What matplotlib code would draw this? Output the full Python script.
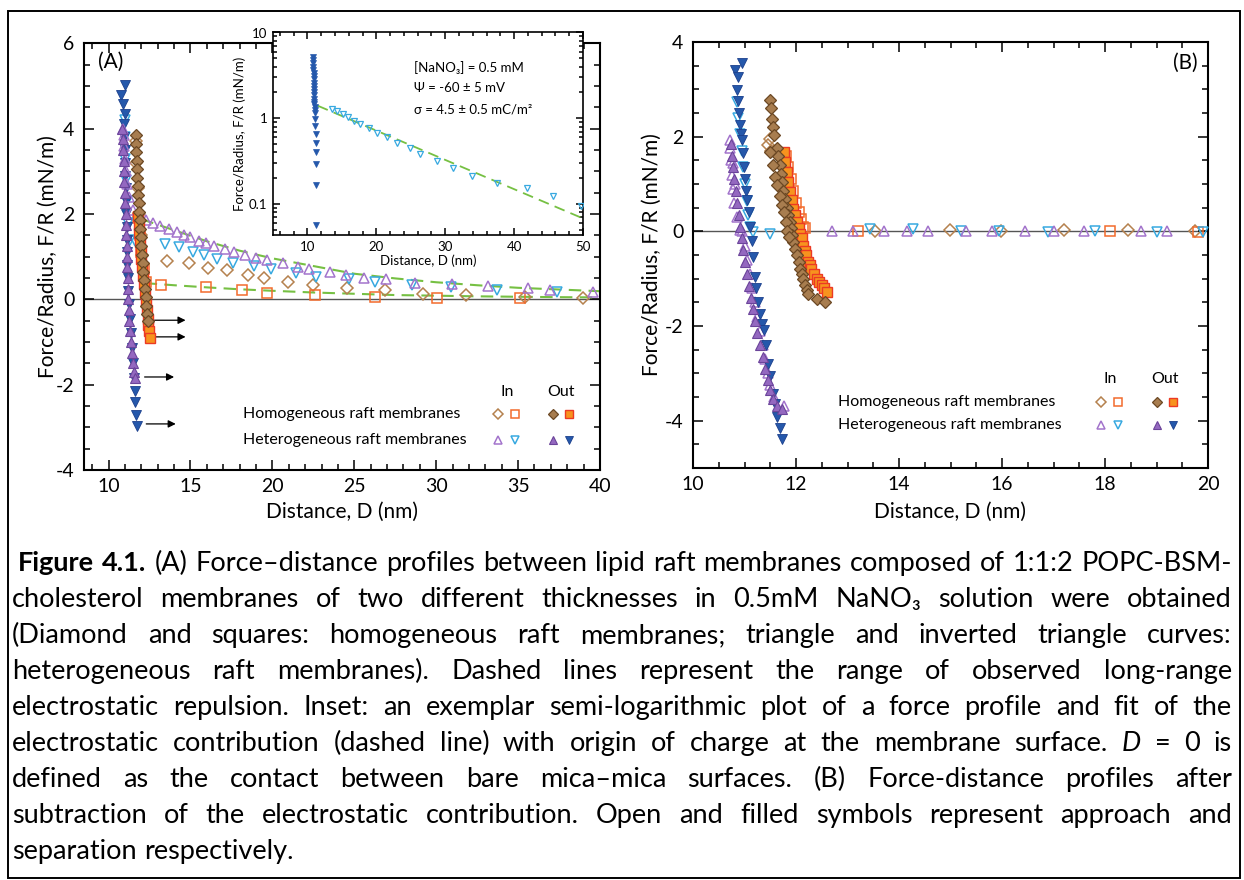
import matplotlib
matplotlib.use('Agg')
import matplotlib.pyplot as plt
from matplotlib.ticker import MultipleLocator, FixedLocator, FixedFormatter, LogLocator, NullFormatter
from matplotlib.patches import Rectangle

W, H = 1244, 880
FONT = ['Lato', 'DejaVu Sans']
plt.rcParams['font.family'] = FONT
plt.rcParams['axes.unicode_minus'] = False

# ---------------- data : panel A ----------------
A_hom_in_dia_D = [38.96, 35.4, 31.8, 29.17, 26.87, 24.55, 22.5, 20.97, 19.5, 18.5, 17.24, 16.1, 14.9, 13.58,
                  12.05, 11.95, 11.85, 11.77, 11.70, 11.66]
A_hom_in_dia_F = [0.04, 0.05, 0.09, 0.12, 0.21, 0.26, 0.33, 0.41, 0.50, 0.56, 0.68, 0.73, 0.86, 0.90,
                  1.05, 1.5, 2.0, 2.6, 3.2, 3.7]
A_hom_in_sq_D = [35.12, 30.04, 26.26, 22.6, 19.70, 18.13, 15.96, 13.21, 12.3, 12.15, 12.0, 11.9, 11.82]
A_hom_in_sq_F = [0.02, 0.03, 0.05, 0.11, 0.15, 0.225, 0.29, 0.335, 0.4, 0.7, 1.1, 1.5, 1.9]
A_hom_out_dia_D = [11.65, 11.67, 11.69, 11.71, 11.73, 11.75, 11.77, 11.80, 11.83, 11.86, 11.89, 11.93,
                   11.97, 12.01, 12.05, 12.09, 12.13, 12.17, 12.21, 12.26, 12.31, 12.36, 12.40]
A_hom_out_dia_F = [3.85, 3.65, 3.45, 3.25, 3.05, 2.85, 2.65, 2.45, 2.25, 2.05, 1.85, 1.65,
                   1.45, 1.25, 1.05, 0.85, 0.65, 0.45, 0.25, 0.05, -0.15, -0.35, -0.50]
A_hom_out_sq_D = [11.80, 11.84, 11.88, 11.92, 11.96, 12.00, 12.05, 12.10, 12.15, 12.20, 12.26, 12.32,
                  12.38, 12.43, 12.48, 12.53]
A_hom_out_sq_F = [1.95, 1.75, 1.55, 1.35, 1.15, 0.95, 0.75, 0.55, 0.35, 0.15, -0.05, -0.25,
                  -0.45, -0.60, -0.75, -0.91]
A_het_in_tri_D = [39.57, 36.95, 35.59, 33.19, 30.99, 28.68, 26.93, 25.57, 24.49, 23.52, 22.26, 21.59,
                  20.67, 19.70, 19.01, 18.31, 17.64, 17.09, 16.46, 15.93, 15.51, 14.98, 14.59, 14.17,
                  13.66, 13.15, 12.70, 12.3, 11.9, 11.5, 11.25, 11.15, 11.08, 11.02, 10.97, 10.92, 10.88]
A_het_in_tri_F = [0.18, 0.21, 0.27, 0.31, 0.36, 0.39, 0.48, 0.50, 0.57, 0.64, 0.70, 0.76,
                  0.84, 0.92, 0.97, 1.05, 1.12, 1.17, 1.25, 1.32, 1.37, 1.45, 1.51, 1.58,
                  1.65, 1.72, 1.78, 1.85, 1.95, 2.1, 2.4, 2.7, 3.0, 3.3, 3.6, 3.85, 4.0]
A_het_in_inv_D = [37.38, 33.70, 30.91, 28.52, 26.26, 24.70, 22.66, 21.46, 19.90, 18.90, 17.6, 16.59,
                  15.81, 15.18, 14.29, 13.46, 11.6, 11.28, 11.2, 11.12, 11.06, 11.02, 10.99, 10.98]
A_het_in_inv_F = [0.18, 0.22, 0.30, 0.33, 0.41, 0.48, 0.53, 0.61, 0.71, 0.79, 0.86, 0.94,
                  1.05, 1.12, 1.23, 1.30, 1.36, 1.39, 1.8, 2.3, 2.8, 3.3, 3.8, 4.2]
A_het_out_tri_D = [10.85, 10.88, 10.90, 10.93, 10.95, 10.97, 11.00, 11.02, 11.04, 11.06, 11.08, 11.10,
                   11.12, 11.14, 11.16, 11.18, 11.20, 11.23, 11.27, 11.31, 11.36, 11.42, 11.48, 11.55, 11.63]
A_het_out_tri_F = [4.0, 3.75, 3.5, 3.25, 3.0, 2.75, 2.5, 2.25, 2.0, 1.75, 1.5, 1.25,
                   1.0, 0.75, 0.5, 0.25, 0.0, -0.25, -0.5, -0.75, -1.0, -1.25, -1.5, -1.7, -1.85]
A_het_out_inv_D = [10.98, 10.77, 10.87, 10.98, 10.95, 10.97, 11.00, 11.02, 11.03, 11.05, 11.06, 11.08,
                   11.10, 11.12, 11.13, 11.15, 11.17, 11.20, 11.24, 11.30, 11.36, 11.42, 11.48, 11.55,
                   11.59, 11.63, 11.69, 11.75]
A_het_out_inv_F = [5.02, 4.80, 4.58, 4.35, 4.10, 3.80, 3.50, 3.20, 2.90, 2.60, 2.30, 2.00,
                   1.70, 1.40, 1.10, 0.80, 0.50, 0.20, -0.10, -0.45, -0.80, -1.15, -1.50, -1.85,
                   -2.15, -2.40, -2.70, -2.98]
A_fit_hi_D = [12.0, 14.0, 16.0, 18.0, 20.0, 22.5, 25.0, 27.5, 30.0, 32.5, 35.0, 37.5, 40.0]
A_fit_hi_F = [1.88, 1.62, 1.36, 1.14, 0.96, 0.78, 0.60, 0.49, 0.40, 0.33, 0.27, 0.23, 0.19]
A_fit_lo_D = [12.2, 14.0, 16.0, 18.0, 20.0, 22.5, 25.0, 27.5, 30.0, 32.5, 35.0, 37.5, 40.0]
A_fit_lo_F = [0.38, 0.33, 0.28, 0.235, 0.20, 0.16, 0.13, 0.10, 0.085, 0.07, 0.06, 0.05, 0.045]
A_arrow_D0 = [12.8, 12.8, 12.2, 12.3]
A_arrow_D1 = [14.7, 14.7, 14.0, 14.1]
A_arrow_F = [-0.49, -0.88, -1.82, -2.92]

# ---------------- data : inset ----------------
IN_app_D = [13.5, 14.33, 15.2, 15.87, 16.75, 17.62, 18.94, 20.06, 21.52, 22.93, 24.91, 26.37, 28.76,
            31.18, 33.95, 37.55, 41.88, 45.67, 49.7]
IN_app_F = [1.28, 1.20, 1.11, 1.04, 0.94, 0.85, 0.77, 0.68, 0.60, 0.52, 0.45, 0.38, 0.32,
            0.265, 0.21, 0.174, 0.153, 0.123, 0.095]
IN_sep_D = [10.85, 10.85, 10.86, 10.86, 10.87, 10.88, 10.88, 10.89, 10.9, 10.91, 10.92, 10.93, 10.95,
            10.97, 10.99, 11.02, 11.05, 11.08, 11.1, 11.12, 11.15, 11.17, 11.2, 11.22, 11.25, 11.25, 11.27]
IN_sep_F = [5.2, 4.8, 4.4, 4.0, 3.7, 3.4, 3.1, 2.85, 2.6, 2.4, 2.2, 2.0, 1.85,
            1.7, 1.55, 1.45, 1.35, 1.25, 1.15, 0.98, 0.81, 0.66, 0.52, 0.40, 0.29, 0.165, 0.057]
IN_fit_D = [11.5, 50.0]
IN_fit_F = [1.40, 0.068]
IN_text = ['[NaNO\u2083] = 0.5 mM', '\u03a8 = -60 \u00b1 5 mV', '\u03c3 = 4.5 \u00b1 0.5 mC/m\u00b2']

# ---------------- data : panel B ----------------
B_hom_in_dia_D = [11.46, 11.50, 11.52, 13.54, 14.99, 15.98, 17.2, 18.45, 19.75]
B_hom_in_dia_F = [1.82, 1.95, 1.70, 0.0, 0.02, 0.0, 0.03, 0.02, 0.0]
B_hom_in_sq_D = [11.8, 11.85, 11.9, 11.95, 12.0, 12.05, 12.1, 12.14, 12.17, 13.2, 18.1, 19.8]
B_hom_in_sq_F = [1.6, 1.35, 1.1, 0.85, 0.6, 0.4, 0.25, 0.1, 0.06, 0.0, 0.0, -0.02]
B_hom_out_dia_D = [11.50, 11.52, 11.53, 11.55, 11.58, 11.63, 11.66, 11.68, 11.70, 11.72, 11.75, 11.79,
                   11.82, 11.85, 11.88, 11.90, 11.92, 11.95, 11.98, 12.02, 12.05, 12.08, 12.11, 12.14,
                   12.17, 12.21, 12.24, 12.40, 12.56,
                   11.50, 11.55, 11.60, 11.63, 11.68, 11.72, 11.76, 11.80, 11.83, 11.87]
B_hom_out_dia_F = [2.77, 2.60, 2.38, 2.20, 2.03, 1.75, 1.60, 1.40, 1.22, 1.04, 0.85, 0.69,
                   0.50, 0.34, 0.20, 0.06, -0.08, -0.22, -0.37, -0.51, -0.65, -0.79, -0.90, -1.00,
                   -1.14, -1.25, -1.32, -1.42, -1.49,
                   1.68, 1.40, 1.15, 0.97, 0.75, 0.55, 0.41, 0.20, 0.0, -0.12]
B_hom_out_sq_D = [11.76, 11.79, 11.82, 11.85, 11.88, 11.92, 11.95, 11.98, 12.02, 12.05, 12.08, 12.11,
                  12.14, 12.17, 12.20, 12.24, 12.27, 12.30, 12.35, 12.40, 12.45, 12.50, 12.55, 12.60]
B_hom_out_sq_F = [1.68, 1.47, 1.26, 1.05, 0.83, 0.66, 0.48, 0.34, 0.20, 0.08, -0.05, -0.15,
                  -0.30, -0.42, -0.51, -0.65, -0.72, -0.79, -0.90, -1.00, -1.07, -1.14, -1.20, -1.28]
B_het_in_tri_D = [10.91, 10.85, 10.80, 10.77, 10.75, 10.73, 10.72, 10.72, 10.78, 10.82,
                  10.95, 11.00, 11.05, 11.10, 11.15, 11.20, 11.25, 11.30, 11.35, 11.40, 11.45, 11.50, 11.58, 11.76,
                  12.69, 13.11, 13.71, 14.15, 14.57, 15.3, 15.8, 16.45, 17.0, 17.6, 18.7, 19.2]
B_het_in_tri_F = [0.02, 0.3, 0.6, 0.9, 1.2, 1.5, 1.75, 1.92, 1.45, 1.0,
                  0.0, -0.3, -0.6, -0.9, -1.2, -1.5, -1.8, -2.1, -2.4, -2.7, -3.0, -3.25, -3.5, -3.68,
                  0.0, 0.0, 0.0, 0.0, 0.0, 0.0, 0.0, 0.0, 0.0, 0.0, 0.0, 0.0]
B_het_in_inv_D = [10.85, 10.88, 10.92, 10.95, 10.98, 11.01, 11.04, 11.07, 11.10, 11.17, 11.5,
                  13.44, 14.28, 15.2, 15.95, 16.9, 17.8, 19.0, 19.9]
B_het_in_inv_F = [2.73, 2.4, 2.05, 1.7, 1.35, 1.0, 0.65, 0.34, 0.1, -0.01, -0.05,
                  0.05, 0.05, 0.0, 0.0, -0.02, 0.0, -0.02, -0.02]
B_het_out_tri_D = [10.74, 10.76, 10.78, 10.80, 10.83, 10.86, 10.89, 10.92, 10.95, 10.98, 11.01, 11.05,
                   11.09, 11.13, 11.17, 11.21, 11.25, 11.30, 11.35, 11.40, 11.45, 11.50, 11.56, 11.64, 11.72]
B_het_out_tri_F = [1.85, 1.6, 1.35, 1.1, 0.85, 0.6, 0.35, 0.1, -0.15, -0.4, -0.65, -0.9,
                   -1.15, -1.4, -1.65, -1.9, -2.15, -2.4, -2.65, -2.9, -3.15, -3.36, -3.55, -3.7, -3.75]
B_het_out_inv_D = [10.95, 10.82, 10.88, 10.85, 10.87, 10.90, 10.91, 10.93, 10.95, 10.97, 10.99, 11.01,
                   11.03, 11.05, 11.08, 11.11, 11.14, 11.17, 11.20, 11.23, 11.27, 11.30, 11.34, 11.37,
                   11.41, 11.46, 11.50, 11.56, 11.60, 11.63, 11.68, 11.72]
B_het_out_inv_F = [3.55, 3.40, 3.25, 2.98, 2.75, 2.49, 2.25, 2.05, 1.92, 1.65, 1.36, 1.10,
                   0.85, 0.66, 0.40, 0.10, -0.20, -0.54, -0.97, -1.20, -1.50, -1.74, -1.95, -2.09,
                   -2.40, -2.80, -3.05, -3.43, -3.65, -3.93, -4.15, -4.38]

A_xticks = [10, 15, 20, 25, 30, 35, 40]
A_yticks = [-4, -2, 0, 2, 4, 6]
B_xticks = [10, 12, 14, 16, 18, 20]
B_yticks = [-4, -2, 0, 2, 4]
IN_xticks = [10, 20, 30, 40, 50]
IN_yticks = [0.1, 1, 10]
IN_ylabels = ['0.1', '1', '10']
LEGEND_ROWS = ['Homogeneous raft membranes', 'Heterogeneous raft membranes']
CAPTION = [
    'Figure 4.1. (A) Force\u2013distance profiles between lipid raft membranes composed of 1:1:2 POPC-BSM-',
    'cholesterol membranes of two different thicknesses in 0.5mM NaNO\u2083 solution were obtained',
    '(Diamond and squares: homogeneous raft membranes; triangle and inverted triangle curves:',
    'heterogeneous raft membranes). Dashed lines represent the range of observed long-range',
    'electrostatic repulsion. Inset: an exemplar semi-logarithmic plot of a force profile and fit of the',
    'electrostatic contribution (dashed line) with origin of charge at the membrane surface. D = 0 is',
    'defined as the contact between bare mica\u2013mica surfaces. (B) Force-distance profiles after',
    'subtraction of the electrostatic contribution. Open and filled symbols represent approach and',
    'separation respectively.',
]

# ---------------- styles ----------------
BROWN_FILL, BROWN_EDGE, BROWN_OPEN = '#a87d4f', '#6b4824', '#b5814e'
ORANGE_FILL, ORANGE_EDGE, ORANGE_OPEN = '#f7931e', '#ec3a24', '#f26b2c'
PURPLE_OPEN, PURPLE_FILL, PURPLE_EDGE = '#a374cc', '#9468c0', '#6b449a'
CYAN_OPEN = '#38a9e0'
BLUE_FILL, BLUE_EDGE = '#2558ab', '#1b3f8c'
GREEN = '#76c043'
ZERO = '#555555'

STY = {
    'hom_in_dia': dict(marker='D', mfc='none', mec=BROWN_OPEN, mew=1.1),
    'hom_in_sq': dict(marker='s', mfc='none', mec=ORANGE_OPEN, mew=1.1),
    'hom_out_dia': dict(marker='D', mfc=BROWN_FILL, mec=BROWN_EDGE, mew=0.9),
    'hom_out_sq': dict(marker='s', mfc=ORANGE_FILL, mec=ORANGE_EDGE, mew=1.0),
    'het_in_tri': dict(marker='^', mfc='none', mec=PURPLE_OPEN, mew=1.1),
    'het_in_inv': dict(marker='v', mfc='none', mec=CYAN_OPEN, mew=1.1),
    'het_out_tri': dict(marker='^', mfc=PURPLE_FILL, mec=PURPLE_EDGE, mew=0.8),
    'het_out_inv': dict(marker='v', mfc=BLUE_FILL, mec=BLUE_EDGE, mew=0.6),
}
MS = {'D': 6.0, 's': 6.5, '^': 7.0, 'v': 7.0}


def px_rect(x0, y0, x1, y1):
    return [x0 / W, 1 - y1 / H, (x1 - x0) / W, (y1 - y0) / H]


def pts(ax, D, F, key, scale=1.0, z=3):
    s = STY[key]
    ax.plot(D, F, ls='none', ms=MS[s['marker']] * scale, zorder=z, clip_on=True, **s)


def style_axis(ax, lw=1.5, lab=14, maj=7, mnr=4):
    for sp in ax.spines.values():
        sp.set_linewidth(lw)
    ax.tick_params(which='both', direction='in', top=True, right=True, width=1.1, labelsize=lab)
    ax.tick_params(which='major', length=maj)
    ax.tick_params(which='minor', length=mnr)


fig = plt.figure(figsize=(W / 100, H / 100), dpi=100)
fig.patches.append(Rectangle((8 / W, 1 - 878 / H), 1232 / W, 867 / H, transform=fig.transFigure,
                             fill=False, lw=1.4, ec='black'))

# ---------------- panel A ----------------
axA = fig.add_axes(px_rect(84, 43.3, 600, 470))
axA.set_xlim(8.5, 40)
axA.set_ylim(-4, 6)
axA.axhline(0, color=ZERO, lw=1.0, zorder=1)
axA.plot(A_fit_hi_D, A_fit_hi_F, color=GREEN, lw=1.5, dashes=(6, 3.5), zorder=2)
axA.plot(A_fit_lo_D, A_fit_lo_F, color=GREEN, lw=1.5, dashes=(6, 3.5), zorder=2)
pts(axA, A_hom_in_dia_D, A_hom_in_dia_F, 'hom_in_dia')
pts(axA, A_hom_in_sq_D, A_hom_in_sq_F, 'hom_in_sq')
pts(axA, A_het_in_inv_D, A_het_in_inv_F, 'het_in_inv')
pts(axA, A_het_out_inv_D, A_het_out_inv_F, 'het_out_inv', z=4)
pts(axA, A_het_in_tri_D, A_het_in_tri_F, 'het_in_tri', z=5)
pts(axA, A_het_out_tri_D, A_het_out_tri_F, 'het_out_tri', z=5)
pts(axA, A_hom_out_sq_D, A_hom_out_sq_F, 'hom_out_sq', z=5)
pts(axA, A_hom_out_dia_D, A_hom_out_dia_F, 'hom_out_dia', z=6)
for d0, d1, f in zip(A_arrow_D0, A_arrow_D1, A_arrow_F):
    axA.annotate('', xy=(d1, f), xytext=(d0, f),
                 arrowprops=dict(arrowstyle='-|>', lw=0.9, color='black', mutation_scale=11,
                                 shrinkA=0, shrinkB=0))
axA.set_xticks(A_xticks)
axA.set_yticks(A_yticks)
axA.xaxis.set_minor_locator(MultipleLocator(1))
axA.yaxis.set_minor_locator(MultipleLocator(0.5))
style_axis(axA)
axA.tick_params(axis='x', pad=6)
axA.tick_params(axis='y', pad=7)
axA.set_xlabel('Distance, D (nm)', fontsize=15)
axA.set_ylabel('Force/Radius, F/R (mN/m)', fontsize=15)
axA.xaxis.set_label_coords(0.5, (470 - 512) / 426.7)
axA.xaxis.label.set_va('center')
axA.yaxis.set_label_coords((48 - 84) / 516, 0.5)
axA.yaxis.label.set_va('center')
axA.text((98 - 84) / 516, (470 - 62) / 426.7, '(A)', transform=axA.transAxes, fontsize=15,
         ha='left', va='center')


def legend(ax, x_text, x_in, x_out, y_head, y_rows, box):
    x0, y0, w, h = box

    def tx(px):
        return (px - x0) / w

    def ty(py):
        return (y0 + h - py) / h
    T = ax.transAxes
    ax.text(tx(x_in), ty(y_head), 'In', transform=T, fontsize=11.5, ha='center', va='center')
    ax.text(tx(x_out), ty(y_head), 'Out', transform=T, fontsize=11.5, ha='center', va='center')
    keys = [('hom_in_dia', 'hom_in_sq', 'hom_out_dia', 'hom_out_sq'),
            ('het_in_tri', 'het_in_inv', 'het_out_tri', 'het_out_inv')]
    for row, yy, ks in zip(LEGEND_ROWS, y_rows, keys):
        ax.text(tx(x_text), ty(yy), row, transform=T, fontsize=11.5, ha='left', va='center')
        xs = [x_in - 9, x_in + 8, x_out - 8, x_out + 8]
        for k, xx in zip(ks, xs):
            s = STY[k]
            ax.plot([tx(xx)], [ty(yy)], ls='none', transform=T, ms=MS[s['marker']] * 0.8,
                    clip_on=False, zorder=7, **s)


legend(axA, 243, 507, 561, 392, [414, 440], (84, 43.3, 516, 426.7))

# ---------------- inset ----------------
axI = fig.add_axes(px_rect(273, 32.5, 583, 235.5))
axI.set_facecolor('white')
axI.set_xlim(5, 50)
axI.set_yscale('log')
axI.set_ylim(0.043, 10)
axI.plot(IN_fit_D, IN_fit_F, color=GREEN, lw=1.3, dashes=(6, 3.5), zorder=2)
axI.plot(IN_app_D, IN_app_F, ls='none', marker='v', ms=4.5, mfc='none', mec=CYAN_OPEN, mew=0.9, zorder=3)
axI.plot(IN_sep_D, IN_sep_F, ls='none', marker='v', ms=4.5, mfc=BLUE_FILL, mec=BLUE_FILL, mew=0.5, zorder=4)
axI.set_xticks(IN_xticks)
axI.xaxis.set_minor_locator(MultipleLocator(2))
axI.yaxis.set_major_locator(FixedLocator(IN_yticks))
axI.yaxis.set_major_formatter(FixedFormatter(IN_ylabels))
axI.yaxis.set_minor_locator(LogLocator(base=10, subs=range(2, 10)))
axI.yaxis.set_minor_formatter(NullFormatter())
style_axis(axI, lw=1.2, lab=9.5, maj=5, mnr=3)
axI.tick_params(axis='both', pad=4)
axI.set_xlabel('Distance, D (nm)', fontsize=9.5, labelpad=1)
axI.set_ylabel('Force/Radius, F/R (mN/m)', fontsize=9.5, labelpad=2)
for i, s in enumerate(IN_text):
    axI.text((414 - 273) / 310, (235.5 - (68 + 20.5 * i)) / 203, s, transform=axI.transAxes,
             fontsize=9.5, ha='left', va='center')

# ---------------- panel B ----------------
axB = fig.add_axes(px_rect(693, 42, 1208, 468))
axB.set_xlim(10, 20)
axB.set_ylim(-5, 4)
axB.axhline(0, color=ZERO, lw=1.0, zorder=1)
pts(axB, B_hom_in_dia_D, B_hom_in_dia_F, 'hom_in_dia')
pts(axB, B_hom_in_sq_D, B_hom_in_sq_F, 'hom_in_sq')
pts(axB, B_het_in_inv_D, B_het_in_inv_F, 'het_in_inv')
pts(axB, B_het_in_tri_D, B_het_in_tri_F, 'het_in_tri')
pts(axB, B_het_out_inv_D, B_het_out_inv_F, 'het_out_inv', z=4)
pts(axB, B_het_out_tri_D, B_het_out_tri_F, 'het_out_tri', z=5)
pts(axB, B_hom_out_sq_D, B_hom_out_sq_F, 'hom_out_sq', z=5)
pts(axB, B_hom_out_dia_D, B_hom_out_dia_F, 'hom_out_dia', z=6)
axB.set_xticks(B_xticks)
axB.set_yticks(B_yticks)
axB.xaxis.set_minor_locator(MultipleLocator(0.5))
axB.yaxis.set_minor_locator(MultipleLocator(0.5))
style_axis(axB)
axB.tick_params(axis='x', pad=6)
axB.tick_params(axis='y', pad=7)
axB.set_xlabel('Distance, D (nm)', fontsize=15)
axB.set_ylabel('Force/Radius, F/R (mN/m)', fontsize=15)
axB.xaxis.set_label_coords(0.5, (468 - 512) / 426)
axB.xaxis.label.set_va('center')
axB.yaxis.set_label_coords((652 - 693) / 515, 0.5)
axB.yaxis.label.set_va('center')
axB.text((1198 - 693) / 515, (468 - 63) / 426, '(B)', transform=axB.transAxes, fontsize=15,
         ha='right', va='center')
legend(axB, 838, 1110, 1165, 379, [402, 425], (693, 42, 515, 426))

# ---------------- caption (justified) ----------------
renderer = fig.canvas.get_renderer()


def measure(s, fs, **kw):
    t = fig.text(0, 0, s, fontsize=fs, **kw)
    w = t.get_window_extent(renderer).width
    t.remove()
    return w


CAP_FS = 20.0
widest = max(measure(l, CAP_FS) for l in CAPTION[:-1])
if widest > 1205:
    CAP_FS = CAP_FS * 1205 / widest
space_w = measure('a a', CAP_FS) - measure('aa', CAP_FS)
for i, line in enumerate(CAPTION):
    base = 571 + 36 * i
    words = line.split(' ')
    arts = []
    for j, wd in enumerate(words):
        kw = {}
        if i == 0 and j < 2:
            kw['fontweight'] = 'bold'
        if i == 5 and wd == 'D':
            kw['fontstyle'] = 'italic'
        arts.append(fig.text(0, 1 - base / H, wd, fontsize=CAP_FS, ha='left', va='baseline', **kw))
    widths = [a.get_window_extent(renderer).width for a in arts]
    start = 18 if i == 0 else 12
    if i < len(CAPTION) - 1:
        gap = (1232 - start - sum(widths)) / (len(words) - 1)
    else:
        gap = space_w
    x = start
    for a, wd in zip(arts, widths):
        a.set_x(x / W)
        x += wd + gap

fig.savefig('out.png', dpi=100)
